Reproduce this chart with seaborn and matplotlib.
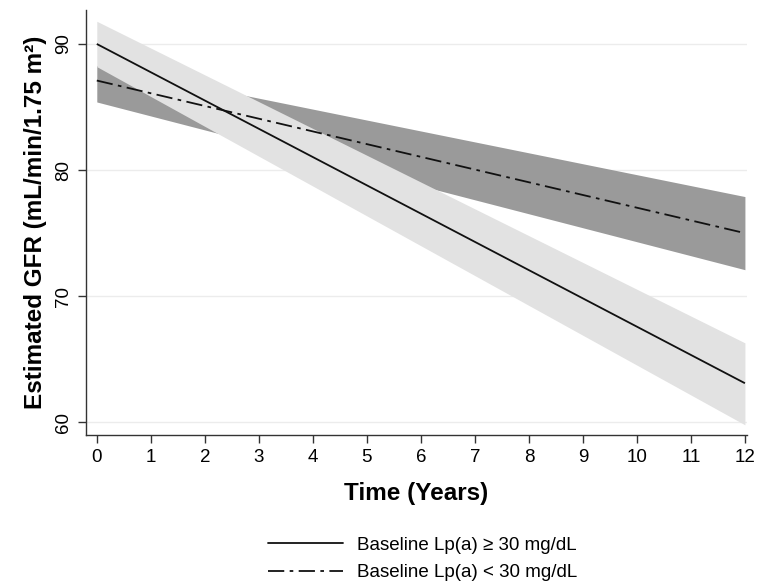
import pandas as pd
import matplotlib.pyplot as plt
import seaborn as sns
from matplotlib.lines import Line2D

# Values (eGFR, mL/min/1.75 m2)
years = [0, 12]
high_est = [90.0, 63.1]
high_lo = [88.2, 59.8]
high_hi = [91.8, 66.3]
low_est = [87.1, 75.0]
low_lo = [85.4, 72.1]
low_hi = [88.3, 77.9]
labels = ["Baseline Lp(a) \u2265 30 mg/dL", "Baseline Lp(a) < 30 mg/dL"]

df = pd.DataFrame({
    "Time": years * 2,
    "GFR": high_est + low_est,
    "Group": [labels[0]] * 2 + [labels[1]] * 2,
})

sns.set_style("white")
plt.rcParams["font.family"] = ["Liberation Sans", "DejaVu Sans"]
plt.rcParams["text.color"] = "black"
plt.rcParams["axes.labelcolor"] = "black"
plt.rcParams["xtick.color"] = "black"
plt.rcParams["ytick.color"] = "black"

fig = plt.figure(figsize=(7.61, 5.83), dpi=100)
ax = fig.add_axes([0.113, 0.254, 0.868, 0.729])

# confidence bands (dark first, light drawn over it like the original)
ax.fill_between(years, low_lo, low_hi, color="#9a9a9a", linewidth=0, zorder=1)
ax.fill_between(years, high_lo, high_hi, color="#e2e2e2", linewidth=0, zorder=2)

sns.lineplot(data=df, x="Time", y="GFR", hue="Group", style="Group",
             palette=["#111111", "#111111"], dashes=[(1, 0), (9, 3, 2, 3)],
             linewidth=1.3, legend=False, ax=ax, zorder=3)

for v in [60, 70, 80, 90]:
    ax.axhline(v, color="#ececec", linewidth=1, zorder=0)

ax.set_xlim(-0.2, 12.03)
ax.set_ylim(59.0, 92.7)
ax.set_xticks(range(0, 13))
ax.set_yticks([60, 70, 80, 90])
ax.tick_params(axis="both", which="both", direction="out", length=6, width=1,
               color="#333333", labelsize=13.5, pad=4, left=True, bottom=True)
for lbl in ax.get_yticklabels():
    lbl.set_rotation(90)
    lbl.set_va("center")

for s in ["top", "right"]:
    ax.spines[s].set_visible(False)
for s in ["left", "bottom"]:
    ax.spines[s].set_color("#333333")
    ax.spines[s].set_linewidth(1)

ax.set_xlabel("Time (Years)", fontsize=17.5, fontweight="bold", labelpad=12)
ax.set_ylabel("Estimated GFR (mL/min/1.75 m\u00b2)", fontsize=17.5, fontweight="bold", labelpad=6)

handles = [Line2D([0], [0], color="#111111", lw=1.3),
           Line2D([0], [0], color="#111111", lw=1.3, dashes=(9, 3, 2, 3))]
fig.legend(handles, labels, loc="center", bbox_to_anchor=(0.555, 0.041),
           frameon=False, fontsize=13.5, handlelength=4.0, handletextpad=0.75,
           labelspacing=0.55)

fig.savefig("out.png", dpi=100)
